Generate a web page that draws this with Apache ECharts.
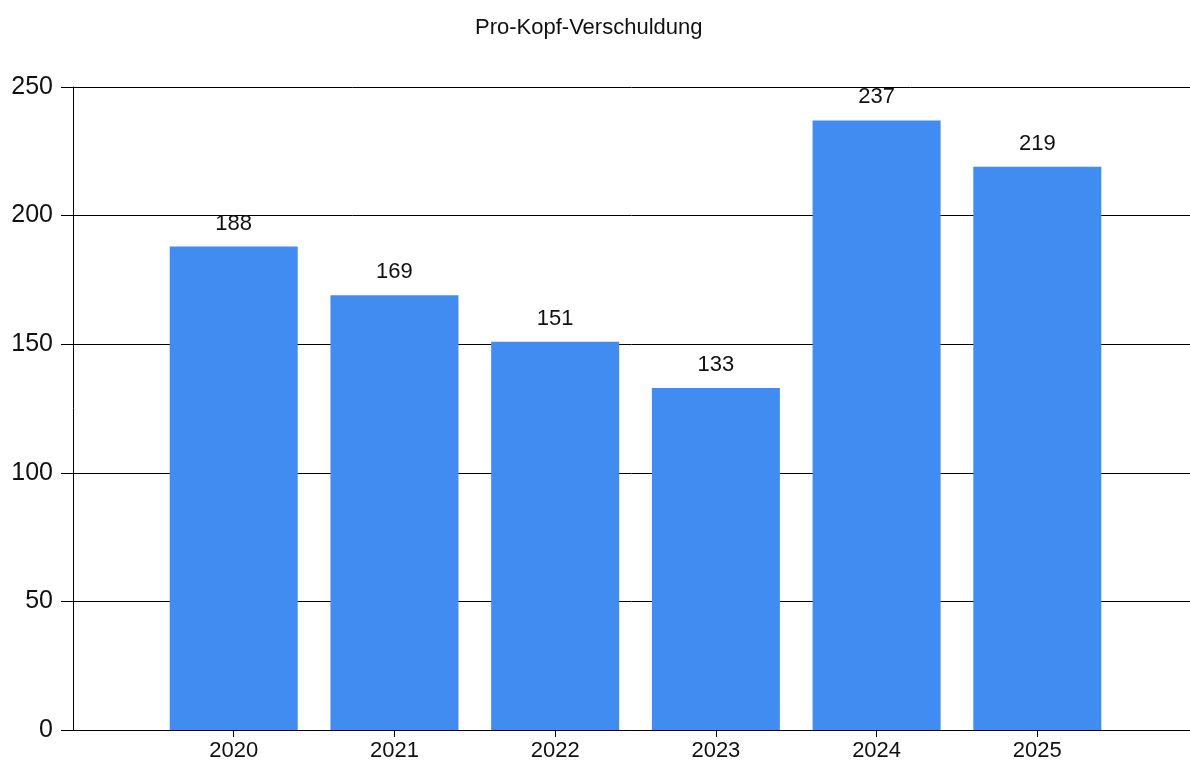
<!DOCTYPE html>
<html>
<head>
<meta charset="utf-8">
<title>Pro-Kopf-Verschuldung</title>
<script src="https://cdn.jsdelivr.net/npm/echarts@6/dist/echarts.min.js"></script>
<style>
  html, body { margin: 0; padding: 0; background: #ffffff; }
  #chart { width: 1190px; height: 763px; }
</style>
</head>
<body>
<div id="chart"></div>
<script>
// Jahre und Pro-Kopf-Verschuldung
const years = [2020, 2021, 2022, 2023, 2024, 2025];
const debtPerCapita = [188, 169, 151, 133, 237, 219];
const yTicks = [0, 50, 100, 150, 200, 250];
const chartTitle = 'Pro-Kopf-Verschuldung';

// visible x range: one year of padding on the left, the right end is cut by the canvas edge
const xMin = 2019;
const xMax = 2025.95;

const FONT = '"Liberation Sans", Arial, sans-serif';
const BAR_COLOR = '#418CF0';
const TEXT_COLOR = '#111111';

const chart = echarts.init(document.getElementById('chart'), null, { renderer: 'canvas' });

chart.setOption({
  animation: false,
  backgroundColor: '#ffffff',
  title: {
    text: chartTitle,
    left: 470,
    top: 12,
    textStyle: { fontFamily: FONT, fontSize: 22, fontWeight: 'normal', color: TEXT_COLOR }
  },
  grid: { left: 73, right: 0, top: 87, bottom: 33, containLabel: false },
  xAxis: {
    type: 'value',
    min: xMin,
    max: xMax,
    interval: 1,
    axisLine: { show: true, onZero: false, lineStyle: { color: '#000', width: 1 } },
    axisTick: { show: true, length: 7, customValues: years, lineStyle: { color: '#000' } },
    axisLabel: {
      customValues: years,
      margin: 10,
      fontFamily: FONT, fontSize: 22, color: TEXT_COLOR,
      formatter: v => String(v)
    },
    splitLine: { show: false }
  },
  yAxis: {
    type: 'value',
    min: yTicks[0],
    max: yTicks[yTicks.length - 1],
    interval: 50,
    axisLine: { show: true, lineStyle: { color: '#000', width: 1 } },
    axisTick: { show: true, length: 12, lineStyle: { color: '#000' } },
    axisLabel: { margin: 20, fontFamily: FONT, fontSize: 25, color: TEXT_COLOR },
    splitLine: { show: true, lineStyle: { color: '#000', width: 1 } }
  },
  series: [{
    type: 'bar',
    data: years.map((y, i) => [y, debtPerCapita[i]]),
    barWidth: 128,
    itemStyle: { color: BAR_COLOR },
    label: {
      show: true,
      position: 'top',
      distance: 12,
      fontFamily: FONT,
      fontSize: 22,
      color: TEXT_COLOR
    }
  }]
});
</script>
</body>
</html>
